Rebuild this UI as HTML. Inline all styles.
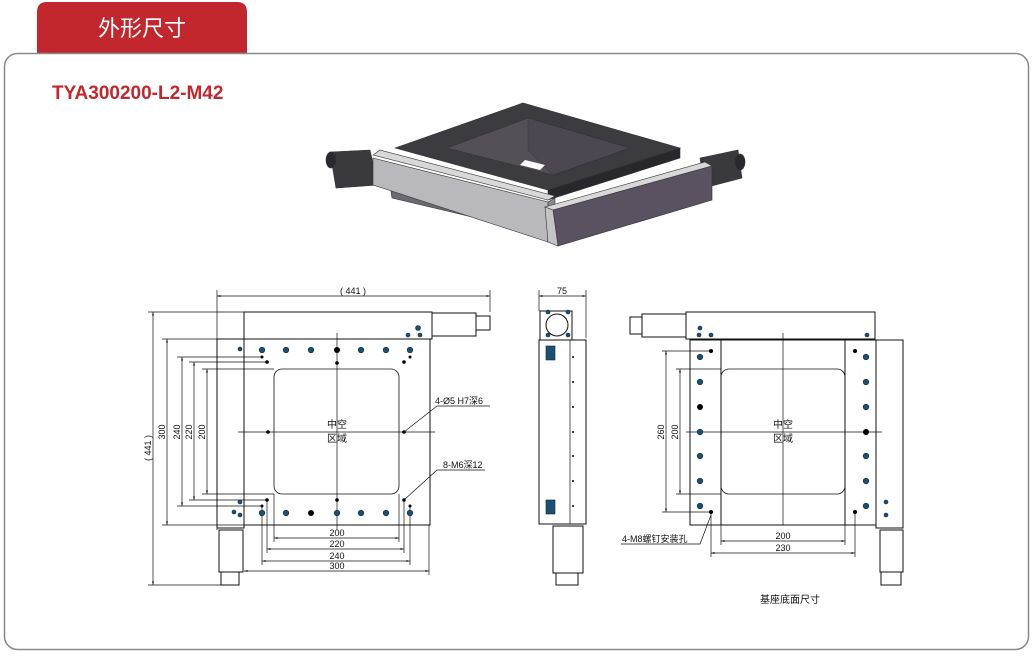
<!DOCTYPE html>
<html><head><meta charset="utf-8"><style>
body{margin:0;width:1034px;height:654px;background:#fff;overflow:hidden;font-family:"Liberation Sans","Noto Sans CJK SC",sans-serif}
</style></head><body>
<svg width="1034" height="654" viewBox="0 0 1034 654" xmlns="http://www.w3.org/2000/svg" font-family="Liberation Sans, Noto Sans CJK SC, sans-serif">
<defs>
<marker id="a" viewBox="0 0 10 6" refX="10" refY="3" markerWidth="8" markerHeight="3" orient="auto-start-reverse"><path d="M0,0L10,3L0,6z" fill="#222"/></marker>
</defs>
<path d="M37,53V12Q37,2 47,2H237Q247,2 247,12V53Z" fill="#c1272d"/>
<text x="142" y="36" font-size="22" fill="#fff" text-anchor="middle">外形尺寸</text>
<rect x="4.5" y="53.5" width="1024" height="596" rx="13" fill="none" stroke="#8a8a8a" stroke-width="1.5"/>
<text x="52" y="99" font-size="19" font-weight="bold" fill="#c1272d">TYA300200-L2-M42</text>

<!-- 3D -->
<g stroke="#333" stroke-width="0.6">
<path d="M330,152 L370,150 L378,185 L336,188Z" fill="#3a3a3e"/>
<ellipse cx="331" cy="160" rx="5" ry="8" fill="#2a2a2e"/>
<path d="M700,158 L738,150 L742,178 L704,188Z" fill="#3a3a3e"/>
<ellipse cx="740" cy="162" rx="5" ry="8" fill="#2a2a2e"/>
<path d="M390,185 L548,225 L548,235 L392,198Z" fill="#6a6a70"/>
<path d="M395,148 L523,103 L680,148 L548,190Z" fill="#3c3c40"/>
<path d="M548,190 L680,148 L680,158 L548,200Z" fill="#28282c"/>
<path d="M447,148 L528,118 L630,148 L553,175Z" fill="#555058"/>
<path d="M528,118 L528,150 L553,175 L630,148Z" fill="#4a4450" opacity=".7"/>
<path d="M525,160 L545,165 L540,170 L520,165Z" fill="#fff" stroke="none"/>
<path d="M373,155 L380,150 L555,196 L548,200Z" fill="#d8d8d8"/>
<path d="M373,158 L548,202 L548,242 L373,185Z" fill="#b9b9bd"/>
<path d="M548,202 L555,198 L555,238 L548,242Z" fill="#8a8a8e"/>
<path d="M545,207 L705,162 L712,166 L553,210Z" fill="#d8d8d8"/>
<path d="M553,210 L712,166 L712,200 L558,246Z" fill="#5a5260"/>
<path d="M545,207 L553,210 L558,246 L548,242Z" fill="#c4c4c8"/>
</g>

<g stroke="#111" stroke-width="1" fill="none">
<!-- LEFT VIEW -->
<rect x="244" y="312" width="188" height="27"/>
<rect x="432" y="313" width="44" height="23"/>
<rect x="476" y="316" width="14" height="14"/>
<rect x="244" y="339" width="186" height="186"/>
<rect x="217" y="339" width="27" height="189"/>
<rect x="219" y="530" width="24" height="42"/>
<rect x="221" y="572" width="18" height="13"/>
<rect x="274" y="369" width="125" height="125" rx="8" stroke-width="0.8"/>
<g stroke-width="0.7">
<line x1="238" y1="432" x2="435" y2="432"/><line x1="337" y1="333" x2="337" y2="530"/>
<line x1="217" y1="290" x2="217" y2="530"/><line x1="490" y1="290" x2="490" y2="312"/>
<line x1="148" y1="312" x2="244" y2="312"/><line x1="148" y1="585" x2="221" y2="585"/>
<line x1="162" y1="339" x2="244" y2="339"/><line x1="162" y1="525" x2="244" y2="525"/>
<line x1="177" y1="357" x2="262" y2="357"/><line x1="177" y1="506" x2="262" y2="506"/>
<line x1="189" y1="362" x2="267" y2="362"/><line x1="189" y1="500" x2="267" y2="500"/>
<line x1="202" y1="369" x2="274" y2="369"/><line x1="202" y1="494" x2="274" y2="494"/>
<line x1="274" y1="494" x2="274" y2="542"/><line x1="399" y1="494" x2="399" y2="542"/>
<line x1="267" y1="500" x2="267" y2="553"/><line x1="404" y1="500" x2="404" y2="553"/>
<line x1="262" y1="506" x2="262" y2="565"/><line x1="410" y1="506" x2="410" y2="565"/>
<line x1="429" y1="525" x2="429" y2="575"/>
<g marker-start="url(#a)" marker-end="url(#a)">
<line x1="217" y1="296" x2="490" y2="296"/>
<line x1="153" y1="312" x2="153" y2="585"/>
<line x1="167" y1="339" x2="167" y2="525"/>
<line x1="182" y1="357" x2="182" y2="506"/>
<line x1="194" y1="362" x2="194" y2="500"/>
<line x1="207" y1="369" x2="207" y2="494"/>
<line x1="274" y1="538" x2="399" y2="538"/>
<line x1="267" y1="549" x2="404" y2="549"/>
<line x1="262" y1="561" x2="410" y2="561"/>
<line x1="244" y1="571" x2="429" y2="571"/>
</g>
<polyline points="404,432 437,406 490,406"/>
<polyline points="404,500 437,470 485,470"/>
</g>

<!-- SIDE VIEW -->
<rect x="540" y="311" width="32" height="29"/>
<circle cx="557" cy="325" r="11"/>
<rect x="539" y="340" width="47" height="184"/>
<line x1="570" y1="340" x2="570" y2="524" stroke-width="0.7"/>
<rect x="553" y="526" width="30" height="47"/>
<rect x="556" y="573" width="22" height="12"/>
<g stroke-width="0.7">
<line x1="539" y1="290" x2="539" y2="311"/><line x1="586" y1="290" x2="586" y2="338"/>
<line x1="539" y1="296" x2="586" y2="296" marker-start="url(#a)" marker-end="url(#a)"/>
</g>

<!-- RIGHT VIEW -->
<rect x="686" y="312" width="189" height="27"/>
<rect x="642" y="314" width="44" height="23"/>
<rect x="630" y="317" width="12" height="17"/>
<rect x="690" y="340" width="186" height="185"/>
<line x1="721" y1="340" x2="721" y2="525"/><line x1="845" y1="340" x2="845" y2="525"/>
<rect x="876" y="340" width="27" height="188"/>
<rect x="880" y="530" width="23" height="42"/>
<rect x="881" y="572" width="20" height="13"/>
<rect x="721" y="369" width="124" height="125" rx="8" stroke-width="0.8"/>
<g stroke-width="0.7">
<line x1="783" y1="333" x2="783" y2="525"/><line x1="686" y1="432" x2="882" y2="432"/>
<line x1="662" y1="351" x2="711" y2="351"/><line x1="662" y1="512" x2="711" y2="512"/>
<line x1="676" y1="369" x2="721" y2="369"/><line x1="676" y1="494" x2="721" y2="494"/>
<line x1="721" y1="525" x2="721" y2="545"/><line x1="845" y1="525" x2="845" y2="545"/>
<line x1="711" y1="512" x2="711" y2="557"/><line x1="855" y1="512" x2="855" y2="557"/>
<g marker-start="url(#a)" marker-end="url(#a)">
<line x1="666" y1="351" x2="666" y2="512"/>
<line x1="680" y1="369" x2="680" y2="494"/>
<line x1="721" y1="541" x2="845" y2="541"/>
<line x1="711" y1="553" x2="855" y2="553"/>
</g>
<polyline points="621,544 700,544 711,515"/>
</g>
</g>

<!-- holes -->
<g fill="#1d4f73" stroke="#0a2a40" stroke-width="0.6">
<circle cx="262" cy="350" r="2.8"/><circle cx="286" cy="350" r="2.8"/><circle cx="311" cy="350" r="2.8"/><circle cx="361" cy="350" r="2.8"/><circle cx="386" cy="350" r="2.8"/><circle cx="410" cy="350" r="2.8"/>
<circle cx="262" cy="513" r="2.8"/><circle cx="286" cy="513" r="2.8"/><circle cx="337" cy="513" r="2.8"/><circle cx="361" cy="513" r="2.8"/><circle cx="386" cy="513" r="2.8"/><circle cx="410" cy="513" r="2.8"/>
<circle cx="240" cy="349" r="2"/><circle cx="240" cy="502" r="2"/><circle cx="240" cy="515" r="2"/><circle cx="234" cy="512" r="2"/>
<circle cx="420" cy="335" r="2"/><circle cx="408" cy="335" r="2"/><circle cx="418" cy="328" r="2.5"/>
<circle cx="548" cy="312" r="2"/><circle cx="568" cy="312" r="2"/><circle cx="548" cy="335" r="2"/><circle cx="568" cy="335" r="2"/>
<rect x="546" y="346" width="9" height="14"/><rect x="546" y="500" width="9" height="14"/>
<circle cx="700" cy="357" r="2.8"/><circle cx="700" cy="382" r="2.8"/><circle cx="700" cy="432" r="2.8"/><circle cx="700" cy="456" r="2.8"/><circle cx="700" cy="481" r="2.8"/><circle cx="700" cy="506" r="2.8"/>
<circle cx="866" cy="357" r="2.8"/><circle cx="866" cy="382" r="2.8"/><circle cx="866" cy="407" r="2.8"/><circle cx="866" cy="456" r="2.8"/><circle cx="866" cy="481" r="2.8"/><circle cx="866" cy="506" r="2.8"/>
<circle cx="699" cy="335" r="2"/><circle cx="711" cy="335" r="2"/><circle cx="700" cy="328" r="2"/><circle cx="867" cy="335" r="2"/>
<circle cx="886" cy="515" r="2"/><circle cx="886" cy="502" r="2"/>
</g>
<g fill="#000">
<circle cx="337" cy="350" r="3"/><circle cx="311" cy="513" r="3"/><circle cx="700" cy="407" r="3"/><circle cx="866" cy="432" r="3"/>
<circle cx="337" cy="363" r="1.8"/><circle cx="337" cy="500" r="1.8"/><circle cx="268" cy="432" r="1.8"/><circle cx="404" cy="432" r="1.8"/>
<circle cx="267" cy="362" r="1.8"/><circle cx="404" cy="362" r="1.8"/><circle cx="267" cy="500" r="1.8"/><circle cx="404" cy="500" r="1.8"/>
<circle cx="262" cy="357" r="1.5"/><circle cx="410" cy="357" r="1.5"/><circle cx="262" cy="506" r="1.5"/><circle cx="410" cy="506" r="1.5"/>
<circle cx="711" cy="351" r="2"/><circle cx="711" cy="512" r="2"/><circle cx="855" cy="351" r="2"/><circle cx="855" cy="512" r="2"/>
<circle cx="573" cy="357" r="1"/><circle cx="573" cy="382" r="1"/><circle cx="573" cy="407" r="1"/><circle cx="573" cy="432" r="1"/><circle cx="573" cy="456" r="1"/><circle cx="573" cy="481" r="1"/><circle cx="573" cy="506" r="1"/>
</g>

<g font-size="9" fill="#111" text-anchor="middle">
<text x="353" y="294">( 441 )</text>
<text x="562" y="294">75</text>
<text x="337" y="536">200</text><text x="337" y="547">220</text><text x="337" y="559">240</text><text x="337" y="569">300</text>
<text x="783" y="539">200</text><text x="783" y="551">230</text>
<text transform="translate(151,448) rotate(-90)">( 441 )</text>
<text transform="translate(165,432) rotate(-90)">300</text>
<text transform="translate(180,432) rotate(-90)">240</text>
<text transform="translate(192,432) rotate(-90)">220</text>
<text transform="translate(205,432) rotate(-90)">200</text>
<text transform="translate(664,432) rotate(-90)">260</text>
<text transform="translate(678,432) rotate(-90)">200</text>
<text x="337" y="428" font-size="10">中空</text><text x="337" y="442" font-size="10">区域</text>
<text x="783" y="428" font-size="10">中空</text><text x="783" y="442" font-size="10">区域</text>
<text x="790" y="603" font-size="10">基座底面尺寸</text>
</g>
<g font-size="9" fill="#111">
<text x="435" y="404">4-Ø5 H7深6</text>
<text x="443" y="468">8-M6深12</text>
<text x="622" y="542">4-M8螺钉安装孔</text>
</g>
</svg>
</body></html>
